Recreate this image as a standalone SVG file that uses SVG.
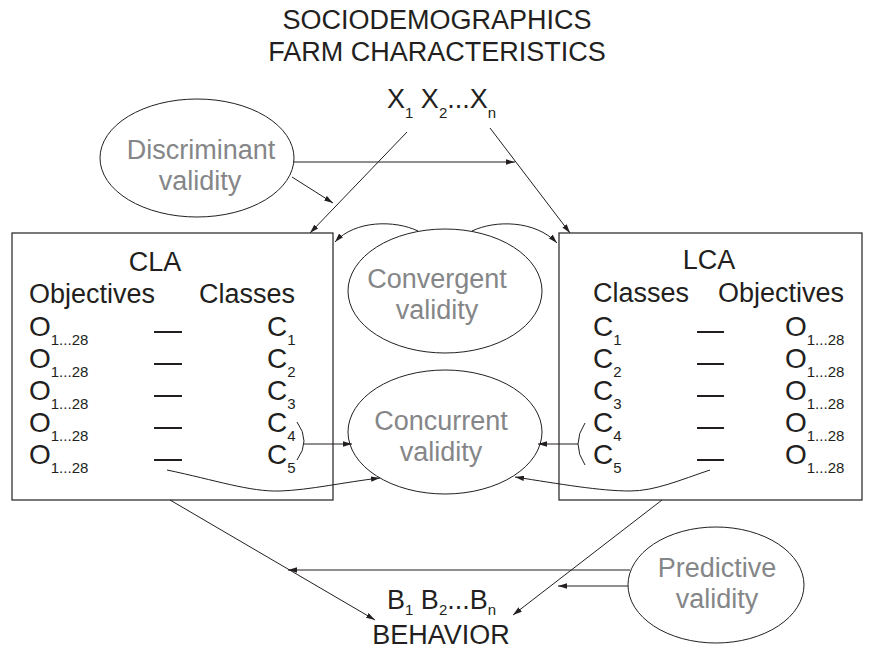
<svg xmlns="http://www.w3.org/2000/svg" width="869" height="650" viewBox="0 0 869 650">
<defs>
<style>
.t{font-family:"Liberation Sans",Arial,sans-serif;font-size:27px;fill:#231f20}
.g{font-family:"Liberation Sans",Arial,sans-serif;font-size:27px;fill:#858688}
.r{font-family:"Liberation Sans",Arial,sans-serif;font-size:28px;fill:#231f20}
.s{font-size:15px}
.box{fill:#fff;stroke:#231f20;stroke-width:1.2}
.ell{fill:none;stroke:#231f20;stroke-width:1}
.ln{fill:none;stroke:#231f20;stroke-width:1}
.dash{stroke:#231f20;stroke-width:2}
.arr{fill:none;stroke:#231f20;stroke-width:1;marker-end:url(#ah)}
</style>
<marker id="ah" viewBox="0 0 10 6" refX="10" refY="3" markerWidth="9" markerHeight="5.4" orient="auto" markerUnits="userSpaceOnUse"><path d="M0,0 L10,3 L0,6 z" fill="#231f20"/></marker>
</defs>
<rect width="869" height="650" fill="#fff"/>

<g id="title">
<text class="t" x="437" y="29" text-anchor="middle">SOCIODEMOGRAPHICS</text>
<text class="t" x="437" y="61" text-anchor="middle">FARM CHARACTERISTICS</text>
</g>

<g id="x-vars">
<text class="t" x="387" y="108">X<tspan class="s" dy="10">1</tspan><tspan dy="-10"> X</tspan><tspan class="s" dy="10">2</tspan><tspan dy="-10">...X</tspan><tspan class="s" dy="10">n</tspan></text>
</g>

<g id="cla">
<rect class="box" x="12" y="233" width="321" height="267"/>
<text class="t" x="155" y="271" text-anchor="middle">CLA</text>
<text class="t" x="29" y="303">Objectives</text>
<text class="t" x="199" y="303">Classes</text>
<g class="r">
<text x="29" y="336">O<tspan class="s" dy="9">1...28</tspan></text>
<text x="29" y="368">O<tspan class="s" dy="9">1...28</tspan></text>
<text x="29" y="400">O<tspan class="s" dy="9">1...28</tspan></text>
<text x="29" y="432">O<tspan class="s" dy="9">1...28</tspan></text>
<text x="29" y="464">O<tspan class="s" dy="9">1...28</tspan></text>
<text x="267" y="336">C<tspan class="s" dy="9">1</tspan></text>
<text x="267" y="368">C<tspan class="s" dy="9">2</tspan></text>
<text x="267" y="400">C<tspan class="s" dy="9">3</tspan></text>
<text x="267" y="432">C<tspan class="s" dy="9">4</tspan></text>
<text x="267" y="464">C<tspan class="s" dy="9">5</tspan></text>
</g>
<line class="dash" x1="154" y1="332" x2="182" y2="332"/>
<line class="dash" x1="154" y1="364" x2="182" y2="364"/>
<line class="dash" x1="154" y1="396" x2="182" y2="396"/>
<line class="dash" x1="154" y1="428" x2="182" y2="428"/>
<line class="dash" x1="154" y1="460" x2="182" y2="460"/>
</g>

<g id="lca">
<rect class="box" x="559" y="233" width="303" height="267"/>
<text class="t" x="709" y="269" text-anchor="middle">LCA</text>
<text class="t" x="593" y="302">Classes</text>
<text class="t" x="718" y="302">Objectives</text>
<g class="r">
<text x="593" y="336">C<tspan class="s" dy="9">1</tspan></text>
<text x="593" y="368">C<tspan class="s" dy="9">2</tspan></text>
<text x="593" y="400">C<tspan class="s" dy="9">3</tspan></text>
<text x="593" y="432">C<tspan class="s" dy="9">4</tspan></text>
<text x="593" y="464">C<tspan class="s" dy="9">5</tspan></text>
<text x="785" y="336">O<tspan class="s" dy="9">1...28</tspan></text>
<text x="785" y="368">O<tspan class="s" dy="9">1...28</tspan></text>
<text x="785" y="400">O<tspan class="s" dy="9">1...28</tspan></text>
<text x="785" y="432">O<tspan class="s" dy="9">1...28</tspan></text>
<text x="785" y="464">O<tspan class="s" dy="9">1...28</tspan></text>
</g>
<line class="dash" x1="697" y1="332" x2="724" y2="332"/>
<line class="dash" x1="697" y1="364" x2="724" y2="364"/>
<line class="dash" x1="697" y1="396" x2="724" y2="396"/>
<line class="dash" x1="697" y1="428" x2="724" y2="428"/>
<line class="dash" x1="697" y1="460" x2="724" y2="460"/>
</g>

<g id="discriminant">
<ellipse class="ell" cx="197" cy="158" rx="97" ry="59"/>
<text class="g" x="201" y="159" text-anchor="middle">Discriminant</text>
<text class="g" x="200" y="190" text-anchor="middle">validity</text>
</g>

<g id="convergent">
<ellipse class="ell" cx="445" cy="291" rx="97" ry="62"/>
<text class="g" x="437" y="288" text-anchor="middle">Convergent</text>
<text class="g" x="437" y="319" text-anchor="middle">validity</text>
</g>

<g id="concurrent">
<ellipse class="ell" cx="445" cy="432" rx="97" ry="62"/>
<text class="g" x="441" y="430" text-anchor="middle">Concurrent</text>
<text class="g" x="441" y="461" text-anchor="middle">validity</text>
</g>

<g id="predictive">
<ellipse class="ell" cx="716" cy="585" rx="88" ry="58"/>
<text class="g" x="717" y="577" text-anchor="middle">Predictive</text>
<text class="g" x="717" y="608" text-anchor="middle">validity</text>
</g>

<g id="behavior">
<text class="t" x="387" y="609">B<tspan class="s" dy="6">1</tspan><tspan dy="-6"> B</tspan><tspan class="s" dy="6">2</tspan><tspan dy="-6">...B</tspan><tspan class="s" dy="6">n</tspan></text>
<text class="t" x="441" y="644" text-anchor="middle">BEHAVIOR</text>
</g>

<g id="connectors">
<line class="arr" x1="407" y1="132" x2="310" y2="233"/>
<line class="arr" x1="490" y1="128" x2="570" y2="233"/>
<line class="arr" x1="293" y1="162" x2="515" y2="162"/>
<line class="arr" x1="292" y1="177" x2="333" y2="203"/>
<path class="arr" d="M418,231 C395,220 355,220 335,242"/>
<path class="arr" d="M472,231 C495,220 535,220 557,243"/>
<path class="ln" d="M297,422 Q311,441 297,460"/>
<line class="arr" x1="304" y1="444" x2="352" y2="444"/>
<path class="ln" d="M585,423 Q571,444 585,465"/>
<line class="arr" x1="578" y1="444" x2="538" y2="444"/>
<path class="arr" d="M167,470 C215,480 250,492 280,491 C310,490 345,482 380,478"/>
<path class="arr" d="M710,470 C680,480 655,491 630,491 C600,491 560,484 515,477"/>
<line class="arr" x1="170" y1="500" x2="375" y2="620"/>
<line class="arr" x1="662" y1="500" x2="513" y2="615"/>
<line class="arr" x1="630" y1="570" x2="288" y2="570"/>
<line class="arr" x1="628" y1="586" x2="558" y2="586"/>
</g>
</svg>
